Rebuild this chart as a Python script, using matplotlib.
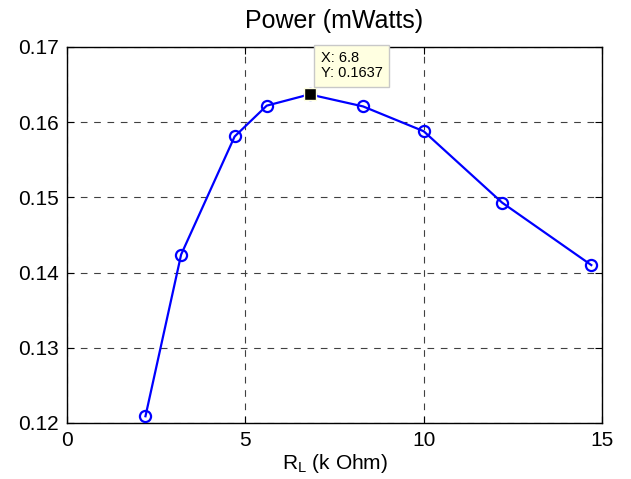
import matplotlib
matplotlib.use('Agg')
import matplotlib.pyplot as plt

# load resistance (k Ohm) and measured power (mW)
r_load = [2.2, 3.2, 4.7, 5.6, 6.8, 8.3, 10.0, 12.2, 14.7]
power = [0.1209, 0.1424, 0.1581, 0.1622, 0.1637, 0.1621, 0.1588, 0.1493, 0.1410]
tip_index = 4

plt.rcParams['font.family'] = ['Liberation Sans', 'DejaVu Sans']
plt.rcParams['mathtext.fontset'] = 'custom'
plt.rcParams['mathtext.rm'] = 'Liberation Sans'

fig = plt.figure(figsize=(6.31, 4.79), dpi=100)
ax = fig.add_axes([67 / 631, 1 - 423 / 479, 535 / 631, 376 / 479])

ax.plot(r_load, power, color='#0000ff', lw=1.6, marker='o', ms=8,
        mfc='none', mec='#0000ff', mew=1.6, zorder=3)

# data cursor
xt, yt = r_load[tip_index], power[tip_index]
ax.plot([xt], [yt], marker='s', ms=8, color='black', mec='#ffffe1',
        mew=1, zorder=4, clip_on=False)
ax.annotate('X: %s\nY: %s' % (xt, yt), (xt, yt), xytext=(8, 10),
            textcoords='offset points', fontsize=10.5, va='bottom', ha='left',
            linespacing=1.1,
            bbox=dict(boxstyle='square,pad=0.45', fc='#ffffe1', ec='#c8c8c8', lw=1),
            zorder=5)

ax.set_xlim(0, 15)
ax.set_ylim(0.12, 0.17)
ax.set_xticks([0, 5, 10, 15])
ax.set_yticks([0.12, 0.13, 0.14, 0.15, 0.16, 0.17])
ax.set_yticklabels(['%.2f' % v for v in ax.get_yticks()])
ax.grid(True, color='#404040', linestyle=(0, (6, 6)), lw=0.8)
ax.tick_params(direction='in', top=True, right=True, labelsize=15, length=5,
               pad=6)
for s in ax.spines.values():
    s.set_linewidth(1)

ax.set_title('Power (mWatts)', fontsize=18, pad=14)
ax.set_xlabel(r'R$_\mathrm{L}$ (k Ohm)', fontsize=15, labelpad=1)

plt.savefig('out.png', dpi=100)
